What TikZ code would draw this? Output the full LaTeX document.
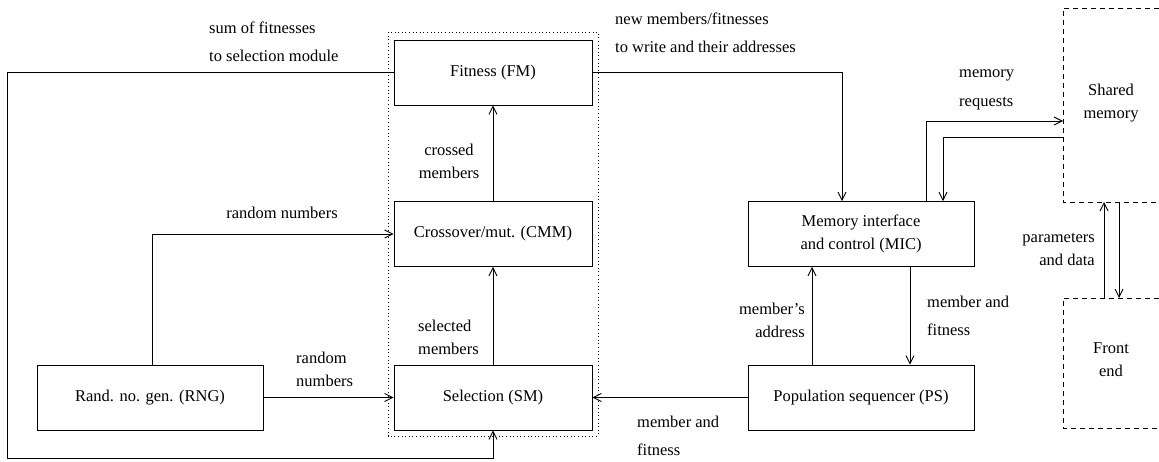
\documentclass[tikz,border=0pt]{standalone}
\usepackage{fontspec}
\setmainfont{Liberation Serif}
\usetikzlibrary{arrows.meta}
\begin{document}
\begin{tikzpicture}[x=1pt,y=-1pt,
  every node/.style={font=\fontsize{16.5}{23}\selectfont, inner sep=0pt},
  box/.style={draw, line width=0.9pt, minimum width=198pt, minimum height=65pt, align=center},
  wbox/.style={draw, line width=0.9pt, minimum width=226pt, minimum height=65pt, align=center},
  lbl/.style={font=\fontsize{16.5}{23}\selectfont},
  lblw/.style={font=\fontsize{16.5}{28.5}\selectfont},
  arr/.style={line width=0.9pt, -{Straight Barb[length=8pt,width=8pt]}},
  ln/.style={line width=0.9pt},
  dsh/.style={line width=0.9pt, dash pattern=on 5pt off 4pt},
  dotbox/.style={line width=0.9pt, dash pattern=on 1pt off 2.6pt}
]
\useasboundingbox (0,0) rectangle (1159,461);

% dotted group
\draw[dotbox] (388,32) rectangle (598,436);

% boxes
\node[box] (fm) at (493,72.5) {Fitness (FM)};
\node[box] (cmm) at (493,234) {Crossover/mut. (CMM)};
\node[box] (sm) at (493,397.5) {Selection (SM)};
\node[wbox] (rng) at (150,397.5) {Rand. no. gen. (RNG)};
\node[wbox] (ps) at (861,397.5) {Population sequencer (PS)};
\node[wbox] (mic) at (861,234) {Memory interface\\and control (MIC)};

% shared memory / front end (open dashed boxes)
\draw[dsh] (1159,8) -| (1063,202) -- (1159,202);
\draw[dsh] (1159,298) -| (1063,428) -- (1159,428);
\node[align=center] (shm) at (1111,103) {Shared\\memory};
\node[align=center] (fe) at (1111,360) {Front\\end};

\coordinate (shmreq) at (1063,121);
\coordinate (shmresp) at (1063,137);
\coordinate (shmbot1) at (1104,202);
\coordinate (shmbot2) at (1119,202);
\coordinate (fetop1) at (1104,298);
\coordinate (fetop2) at (1119,298);
\coordinate (lpc) at (7,458);

% connectors
\draw[arr] (cmm.north) -- (fm.south);
\draw[arr] (sm.north) -- (cmm.south);
\draw[arr] (rng.east) -- (sm.west);
\draw[arr] ([xshift=2pt]rng.north) |- (cmm.west);
\draw[arr] (ps.west) -- (sm.east);
\draw[arr] (fm.west) -| (lpc) -| (sm.south);
\draw[arr] (fm.east) -| ([xshift=-19pt]mic.north);
\draw[arr] ([xshift=-49pt]ps.north) -- ([xshift=-49pt]mic.south);
\draw[arr] ([xshift=49pt]mic.south) -- ([xshift=49pt]ps.north);
\draw[arr] ([xshift=65pt]mic.north) |- (shmreq);
\draw[arr] (shmresp) -| ([xshift=82pt]mic.north);
\draw[arr] (fetop1) -- (shmbot1);
\draw[arr] (shmbot2) -- (fetop2);

% labels
\node[lblw, align=left, anchor=west] (l1) at (209,42) {sum of fitnesses\\to selection module};
\node[lblw, align=left, anchor=west] (l2) at (615,33) {new members/fitnesses\\to write and their addresses};
\node[lbl, align=center] (l3) at (282,213) {random numbers};
\node[lbl, align=center] (l4) at (449,161) {crossed\\members};
\node[lbl, align=left, anchor=west] (l5) at (418,337) {selected\\members};
\node[lbl, align=left, anchor=west] (l6) at (296,369) {random\\numbers};
\node[lblw, align=left, anchor=west] (l7) at (637,436) {member and\\fitness};
\node[lbl, align=right, anchor=east] (l8) at (805,320) {member's\\address};
\node[lblw, align=left, anchor=west] (l9) at (927,316) {member and\\fitness};
\node[lblw, align=left, anchor=west] (l10) at (959,90) {memory\\requests};
\node[lbl, align=right, anchor=east] (l11) at (1095,249) {parameters\\and data};
\end{tikzpicture}
\end{document}
